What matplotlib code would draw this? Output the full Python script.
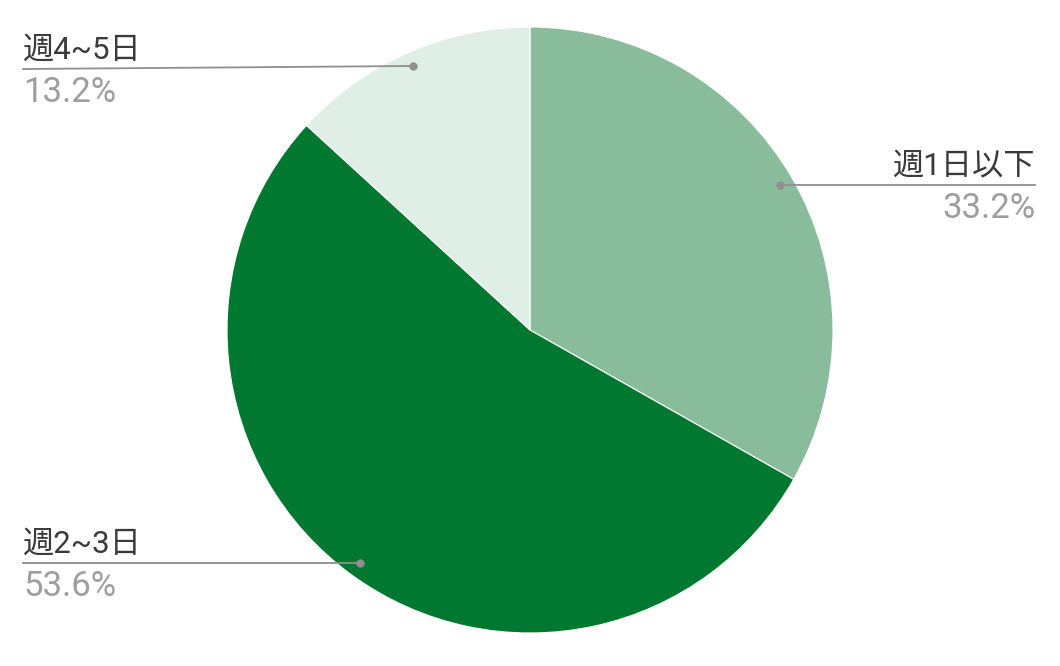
import matplotlib
matplotlib.use("Agg")
import matplotlib.pyplot as plt

labels = ["週1日以下", "週2~3日", "週4~5日"]
values = [33.2, 53.6, 13.2]
colors = ["#88bc9a", "#00782f", "#e0efe5"]

W, H = 1060, 666
fig = plt.figure(figsize=(W / 100, H / 100), dpi=100)
ax = fig.add_axes([0, 0, 1, 1])

cx, cy, r = 530, H - 330, 303
ax.pie(values, colors=colors, startangle=90, counterclock=False,
       center=(cx, cy), radius=r, frame=True,
       wedgeprops=dict(linewidth=0.8, edgecolor="white"))
ax.set_xlim(0, W)
ax.set_ylim(0, H)
ax.set_aspect("equal")
ax.axis("off")

fam = ["Roboto", "Noto Sans CJK JP", "DejaVu Sans"]
txt_col = "#3a3a3a"
pct_col = "#9e9e9e"
line_col = "#8f8f8f"

# label placements in pixel coords (top-origin): dot, line end, alignment
layout = [
    dict(dot=(780, 185), end=(1035, 185), ha="right"),
    dict(dot=(360, 563), end=(23, 563), ha="left"),
    dict(dot=(413, 66), end=(23, 69), ha="left"),
]
for lab, v, L in zip(labels, values, layout):
    dx, dy = L["dot"]
    ex, ey = L["end"]
    ax.plot([dx, ex], [H - dy, H - ey], color=line_col, lw=1.3, zorder=5)
    ax.plot([dx], [H - dy], "o", color=line_col, ms=5, zorder=6)
    ax.text(ex, H - ey + 10, lab, ha=L["ha"], va="baseline", fontsize=22.5,
            color=txt_col, family=fam)
    ax.text(ex, H - ey - 33, f"{v:.1f}%", ha=L["ha"], va="baseline", fontsize=25,
            color=pct_col, family=fam)

fig.savefig("out.png", dpi=100, facecolor="white")
